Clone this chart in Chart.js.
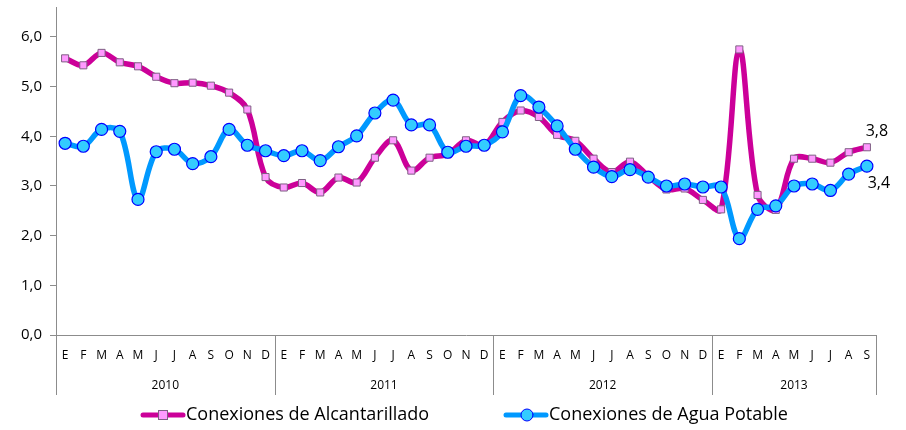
<!DOCTYPE html>
<html>
<head>
<meta charset="utf-8">
<script src="https://cdn.jsdelivr.net/npm/chart.js@4/dist/chart.umd.min.js"></script>
<style>
  html, body { margin: 0; padding: 0; background: #fff; }
  #wrap { width: 906px; height: 430px; }
</style>
</head>
<body>
<div id="wrap"><canvas id="chart"></canvas></div>
<script>
// meses (E..D) por año, 2010 ene - 2013 sep
const months = ["E","F","M","A","M","J","J","A","S","O","N","D"];
const years = ["2010", "2011", "2012", "2013"];
const monthsPerYear = [12, 12, 12, 9];
const labels = [].concat(...monthsPerYear.map(n => months.slice(0, n)));

const alcantarillado = [
  5.57, 5.43, 5.68, 5.49, 5.41, 5.20, 5.07, 5.08, 5.02, 4.88, 4.54, 3.18,
  2.97, 3.06, 2.87, 3.17, 3.07, 3.57, 3.92, 3.31, 3.57, 3.64, 3.92, 3.82,
  4.29, 4.52, 4.39, 4.03, 3.91, 3.55, 3.28, 3.49, 3.20, 2.93, 2.95, 2.72,
  2.53, 5.75, 2.82, 2.52, 3.55, 3.55, 3.47, 3.68, 3.78
];
const aguaPotable = [
  3.86, 3.80, 4.14, 4.10, 2.73, 3.69, 3.74, 3.45, 3.59, 4.14, 3.82, 3.71,
  3.61, 3.71, 3.51, 3.79, 4.01, 4.47, 4.73, 4.23, 4.23, 3.68, 3.80, 3.82,
  4.09, 4.82, 4.59, 4.21, 3.74, 3.38, 3.19, 3.33, 3.18, 3.00, 3.04, 2.98,
  2.98, 1.94, 2.53, 2.60, 3.00, 3.04, 2.91, 3.24, 3.40
];
const yTicks = [0, 1, 2, 3, 4, 5, 6];
const seriesNames = ["Conexiones de Alcantarillado", "Conexiones de Agua Potable"];

const FONT = "'Open Sans', 'Liberation Sans', sans-serif";
const PINK = "#cc0099", BLUE = "#0099ff";

const fmt = v => v.toFixed(1).replace(".", ",");

// años + separadores bajo el eje x, etiquetas finales, leyenda
const extras = {
  id: "extras",
  afterDraw(chart) {
    const ctx = chart.ctx;
    const x = chart.scales.x;
    const area = chart.chartArea;
    const step = x.getPixelForValue(1) - x.getPixelForValue(0);
    ctx.save();
    ctx.strokeStyle = "#8c8c8c";
    ctx.lineWidth = 1;
    let start = 0;
    const bounds = [];
    monthsPerYear.forEach(n => { bounds.push([start, start + n - 1]); start += n; });
    const edges = [x.getPixelForValue(0) - step / 2];
    bounds.forEach(b => edges.push(x.getPixelForValue(b[1]) + step / 2));
    edges.forEach(px => {
      px = Math.round(px) + 0.5;
      ctx.beginPath();
      ctx.moveTo(px, area.bottom);
      ctx.lineTo(px, area.bottom + 60);
      ctx.stroke();
    });
    ctx.fillStyle = "#000";
    ctx.font = "12px " + FONT;
    ctx.textAlign = "center";
    ctx.textBaseline = "middle";
    years.forEach((y, i) => {
      ctx.fillText(y, (edges[i] + edges[i + 1]) / 2, area.bottom + 51);
    });

    // etiquetas del último valor
    ctx.font = "16px " + FONT;
    const p0 = chart.getDatasetMeta(0).data[alcantarillado.length - 1];
    const p1 = chart.getDatasetMeta(1).data[aguaPotable.length - 1];
    ctx.fillText(fmt(alcantarillado[alcantarillado.length - 1]), p0.x + 10, p0.y - 16);
    ctx.fillText(fmt(aguaPotable[aguaPotable.length - 1]), p1.x + 12, p1.y + 17);

    // leyenda
    const ly = 415;
    const items = [
      { x: 143, color: PINK, name: seriesNames[0], square: true },
      { x: 506, color: BLUE, name: seriesNames[1], square: false }
    ];
    ctx.font = "18px " + FONT;
    ctx.textAlign = "left";
    items.forEach(it => {
      ctx.strokeStyle = it.color;
      ctx.lineWidth = 5;
      ctx.lineCap = "round";
      ctx.beginPath();
      ctx.moveTo(it.x, ly);
      ctx.lineTo(it.x + 40, ly);
      ctx.stroke();
      ctx.lineWidth = 1;
      if (it.square) {
        ctx.fillStyle = "#ff99ff";
        ctx.strokeStyle = "#7f6084";
        ctx.fillRect(it.x + 15.5, ly - 4.5, 9, 9);
        ctx.strokeRect(it.x + 15.5, ly - 4.5, 9, 9);
      } else {
        ctx.fillStyle = "#33ccff";
        ctx.strokeStyle = "#0000ff";
        ctx.beginPath();
        ctx.arc(it.x + 21, ly, 6, 0, Math.PI * 2);
        ctx.fill();
        ctx.stroke();
      }
      ctx.fillStyle = "#000";
      ctx.fillText(it.name, it.x + 43, ly);
    });
    ctx.restore();
  }
};

new Chart(document.getElementById("chart"), {
  type: "line",
  data: {
    labels: labels,
    datasets: [
      {
        label: seriesNames[0],
        data: alcantarillado,
        borderColor: PINK,
        borderWidth: 5.5,
        tension: 0.35,
        pointStyle: "rect",
        pointRadius: 5,
        pointBackgroundColor: "#ff99ff",
        pointBorderColor: "#7f6084",
        pointBorderWidth: 1,
        order: 1
      },
      {
        label: seriesNames[1],
        data: aguaPotable,
        borderColor: BLUE,
        borderWidth: 5.5,
        tension: 0.35,
        pointStyle: "circle",
        pointRadius: 6,
        pointBackgroundColor: "#33ccff",
        pointBorderColor: "#0000ff",
        pointBorderWidth: 1.2,
        order: 0
      }
    ]
  },
  options: {
    responsive: true,
    maintainAspectRatio: false,
    animation: false,
    layout: { padding: { left: 0, right: 30, top: 3, bottom: 35 } },
    plugins: { legend: { display: false }, tooltip: { enabled: false } },
    scales: {
      x: {
        offset: true,
        grid: { display: false, drawTicks: false },
        border: { display: true, color: "#8c8c8c", width: 1 },
        ticks: {
          autoSkip: false, maxRotation: 0, padding: 13, color: "#000",
          font: { family: FONT, size: 12 }
        },
        afterFit(scale) { scale.height = 60; }
      },
      y: {
        min: 0,
        max: 6.6,
        afterBuildTicks(scale) { scale.ticks = yTicks.map(v => ({ value: v })); },
        grid: { display: true, drawOnChartArea: false, drawTicks: true, tickLength: 6, color: "#8c8c8c" },
        border: { display: true, color: "#8c8c8c", width: 1 },
        ticks: {
          padding: 8, color: "#000",
          font: { family: FONT, size: 15 },
          callback: v => fmt(v)
        },
        afterFit(scale) {
          scale.width = 56;
          scale.paddingTop = 0;
          scale.paddingBottom = 0;
        }
      }
    }
  },
  plugins: [extras]
});
</script>
</body>
</html>
